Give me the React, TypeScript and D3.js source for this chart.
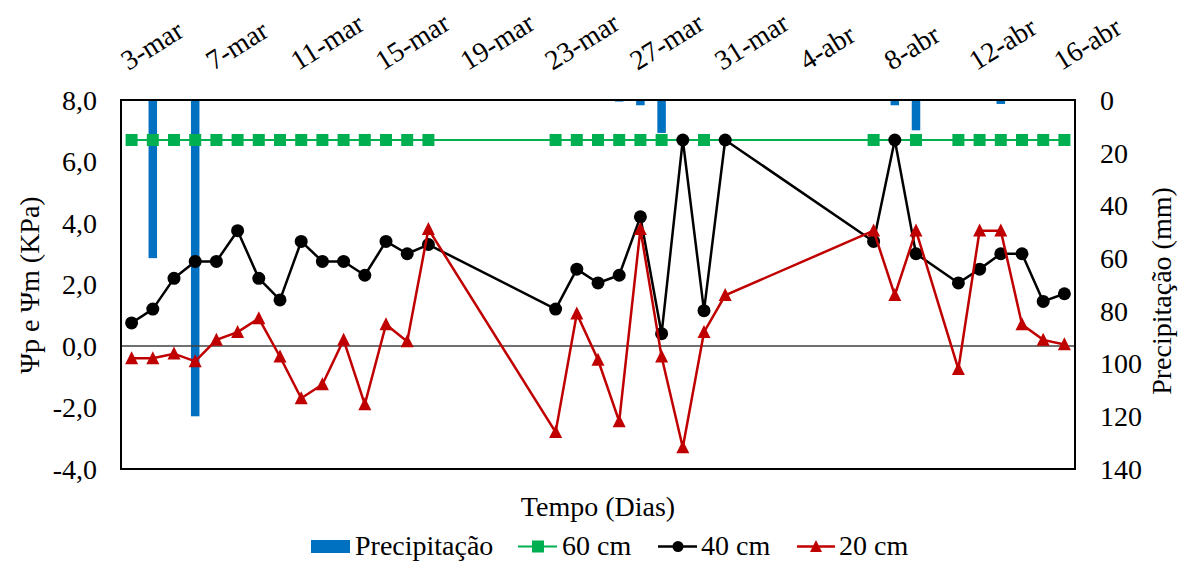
import React from "react";
import * as d3 from "d3";

// Daily categories, 3 March to 16 April
const days = [
  "3-mar", "4-mar", "5-mar", "6-mar", "7-mar", "8-mar", "9-mar", "10-mar", "11-mar", "12-mar",
  "13-mar", "14-mar", "15-mar", "16-mar", "17-mar", "18-mar", "19-mar", "20-mar", "21-mar", "22-mar",
  "23-mar", "24-mar", "25-mar", "26-mar", "27-mar", "28-mar", "29-mar", "30-mar", "31-mar", "1-abr",
  "2-abr", "3-abr", "4-abr", "5-abr", "6-abr", "7-abr", "8-abr", "9-abr", "10-abr", "11-abr",
  "12-abr", "13-abr", "14-abr", "15-abr", "16-abr",
];

const tickLabels = [
  "3-mar", "7-mar", "11-mar", "15-mar", "19-mar", "23-mar",
  "27-mar", "31-mar", "4-abr", "8-abr", "12-abr", "16-abr",
];

const leftTicks = [8, 6, 4, 2, 0, -2, -4];
const rightTicks = [0, 20, 40, 60, 80, 100, 120, 140];

// Rainfall (mm), one value per day
const precipitacao: (number | null)[] = [
  null, 60, null, 120, null, null, null, null, null, null,
  null, null, null, null, null, null, null, null, null, null,
  null, null, null, 0.6, 2, 12.5, null, null, null, null,
  null, null, null, null, null, null, 2, 11.5, null, null,
  null, 1.5, null, null, null,
];

// Water potential (KPa) at 60 cm depth
const cm60: (number | null)[] = [
  6.7, 6.7, 6.7, 6.7, 6.7, 6.7, 6.7, 6.7, 6.7, 6.7,
  6.7, 6.7, 6.7, 6.7, 6.7, null, null, null, null, null,
  6.7, 6.7, 6.7, 6.7, 6.7, 6.7, null, 6.7, null, null,
  null, null, null, null, null, 6.7, null, 6.7, null, 6.7,
  6.7, 6.7, 6.7, 6.7, 6.7,
];

// Water potential (KPa) at 40 cm depth
const cm40: (number | null)[] = [
  0.75, 1.2, 2.2, 2.75, 2.75, 3.75, 2.2, 1.5, 3.4, 2.75,
  2.75, 2.3, 3.4, 3.0, 3.3, null, null, null, null, null,
  1.2, 2.5, 2.05, 2.3, 4.2, 0.4, 6.7, 1.15, 6.7, null,
  null, null, null, null, null, 3.4, 6.7, 3.0, null, 2.05,
  2.5, 3.0, 3.0, 1.45, 1.7,
];

// Water potential (KPa) at 20 cm depth
const cm20: (number | null)[] = [
  -0.4, -0.4, -0.25, -0.5, 0.2, 0.45, 0.9, -0.35, -1.7, -1.25,
  0.2, -1.9, 0.7, 0.15, 3.8, null, null, null, null, null,
  -2.8, 1.05, -0.45, -2.45, 3.8, -0.35, -3.3, 0.45, 1.65, null,
  null, null, null, null, null, 3.75, 1.65, 3.75, null, -0.75,
  3.75, 3.75, 0.7, 0.2, 0.05,
];

const W = 1181;
const H = 561;
const P = { left: 121, right: 1075, top: 100, bottom: 469 };

const BLUE = "#0070C0";
const GREEN = "#00B050";
const RED = "#C00000";
const FONT = "'Liberation Serif', 'Times New Roman', Tinos, serif";
const FS = 28;

const fmt = (v: number) => v.toFixed(1).replace(".", ",");

export default function App() {
  const x = d3.scaleBand<string>().domain(days).range([P.left, P.right]).padding(0);
  const cx = (d: string) => (x(d) as number) + x.bandwidth() / 2;
  const yL = d3.scaleLinear().domain([-4, 8]).range([P.bottom, P.top]);
  const yR = d3.scaleLinear().domain([0, 140]).range([P.top, P.bottom]);

  const pts = (vals: (number | null)[]) =>
    days
      .map((d, i) => ({ d, v: vals[i] }))
      .filter((p) => p.v !== null) as { d: string; v: number }[];

  const line = d3
    .line<{ d: string; v: number }>()
    .x((p) => cx(p.d))
    .y((p) => yL(p.v));

  const g60 = pts(cm60);
  const g40 = pts(cm40);
  const g20 = pts(cm20);
  const rain = pts(precipitacao);
  const barW = 8.5;

  const tri = (s: number) => `M0,${-s * 0.55}L${s / 2},${s * 0.45}L${-s / 2},${s * 0.45}Z`;
  const txt = { fontFamily: FONT, fontSize: FS };
  const leg = { fontFamily: FONT, fontSize: 28 };

  return (
    <svg
      width={W}
      height={H}
      style={{ position: "absolute", left: 0, top: 0, background: "#fff" }}
    >
      {/* rainfall bars hanging from the top (reversed secondary axis) */}
      {rain.map((p) => (
        <rect
          key={"r" + p.d}
          x={cx(p.d) - barW / 2}
          y={yR(0)}
          width={barW}
          height={yR(p.v) - yR(0)}
          fill={BLUE}
        />
      ))}

      {/* zero line */}
      <line x1={P.left} x2={P.right} y1={yL(0)} y2={yL(0)} stroke="#404040" strokeWidth={1.5} />

      {/* plot frame */}
      <rect
        x={P.left}
        y={P.top}
        width={P.right - P.left}
        height={P.bottom - P.top}
        fill="none"
        stroke="#000"
        strokeWidth={2}
      />

      {/* 60 cm */}
      <path d={line(g60) || ""} fill="none" stroke={GREEN} strokeWidth={2} />
      {g60.map((p) => (
        <rect key={"g" + p.d} x={cx(p.d) - 6} y={yL(p.v) - 6} width={12} height={12} fill={GREEN} />
      ))}

      {/* 40 cm */}
      <path d={line(g40) || ""} fill="none" stroke="#000" strokeWidth={2.5} strokeLinejoin="round" />
      {g40.map((p) => (
        <circle key={"b" + p.d} cx={cx(p.d)} cy={yL(p.v)} r={6.5} fill="#000" />
      ))}

      {/* 20 cm */}
      <path d={line(g20) || ""} fill="none" stroke={RED} strokeWidth={2.5} strokeLinejoin="miter" />
      {g20.map((p) => (
        <path key={"t" + p.d} d={tri(13)} transform={`translate(${cx(p.d)},${yL(p.v)})`} fill={RED} />
      ))}

      {/* left axis labels */}
      {leftTicks.map((t) => (
        <text key={"l" + t} x={97} y={yL(t)} dy="0.35em" textAnchor="end" style={txt}>
          {fmt(t)}
        </text>
      ))}

      {/* right axis labels */}
      {rightTicks.map((t) => (
        <text key={"rt" + t} x={1100} y={yR(t)} dy="0.35em" textAnchor="start" style={txt}>
          {t}
        </text>
      ))}

      {/* date labels along the top */}
      {tickLabels.map((t) => (
        <text
          key={"x" + t}
          transform={`translate(${cx(t) - 3},${71}) rotate(-32)`}
          textAnchor="start"
          style={txt}
        >
          {t}
        </text>
      ))}

      {/* axis titles */}
      <text transform={`translate(${39},${285}) rotate(-90)`} textAnchor="middle" style={txt}>
        Ψp e Ψm (KPa)
      </text>
      <text transform={`translate(${1171},${291}) rotate(-90)`} textAnchor="middle" style={txt}>
        Precipitação (mm)
      </text>
      <text x={598} y={516} textAnchor="middle" style={txt}>
        Tempo (Dias)
      </text>

      {/* legend */}
      <rect x={311} y={540} width={39} height={13} fill={BLUE} />
      <text x={355} y={555} style={leg}>Precipitação</text>

      <line x1={518} x2={557} y1={546.5} y2={546.5} stroke={GREEN} strokeWidth={2} />
      <rect x={532} y={540.5} width={12} height={12} fill={GREEN} />
      <text x={562} y={555} style={leg}>60 cm</text>

      <line x1={658} x2={697} y1={546.5} y2={546.5} stroke="#000" strokeWidth={2.5} />
      <circle cx={678} cy={546.5} r={5.5} fill="#000" />
      <text x={701} y={555} style={leg}>40 cm</text>

      <line x1={797} x2={835} y1={546.5} y2={546.5} stroke={RED} strokeWidth={2.5} />
      <path d={tri(12)} transform="translate(816,546.5)" fill={RED} />
      <text x={839} y={555} style={leg}>20 cm</text>
    </svg>
  );
}
